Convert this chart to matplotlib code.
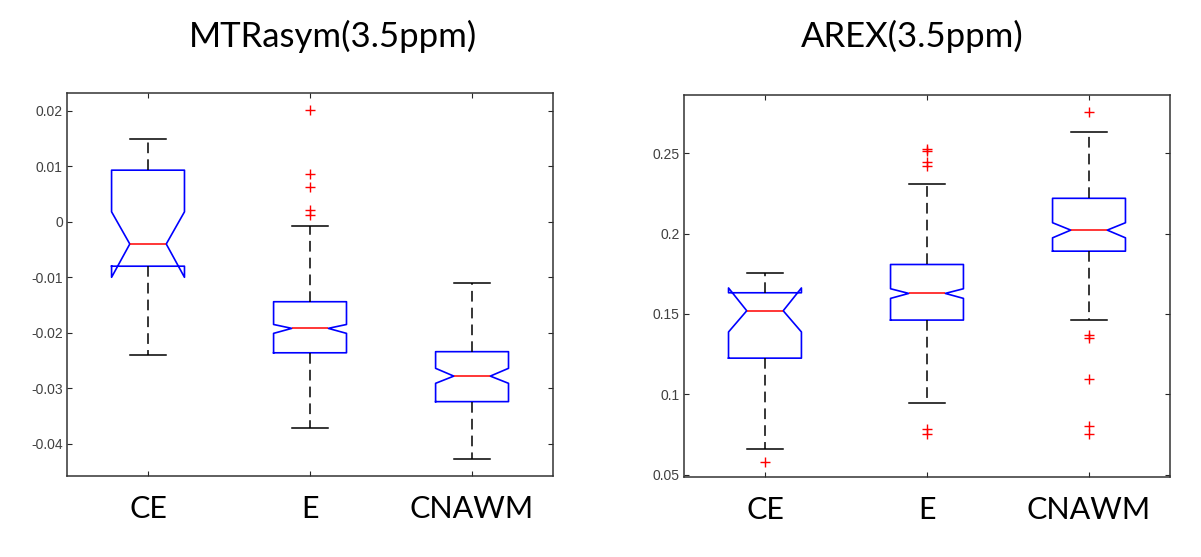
import numpy as np
import matplotlib
matplotlib.use("Agg")
import matplotlib.pyplot as plt

groups = ["CE", "E", "CNAWM"]

# MTRasym(3.5ppm) box statistics
mtr_whislo = [-0.0240, -0.0371, -0.0428]
mtr_q1 = [-0.0080, -0.0236, -0.0324]
mtr_cilo = [-0.0100, -0.0201, -0.0291]
mtr_med = [-0.0040, -0.0192, -0.0278]
mtr_cihi = [0.0018, -0.0185, -0.0264]
mtr_q3 = [0.0093, -0.0144, -0.0234]
mtr_whishi = [0.0149, -0.0008, -0.0111]
mtr_fliers = [[], [0.0201, 0.0087, 0.0063, 0.0021, 0.0013], []]

# AREX(3.5ppm) box statistics
arex_whislo = [0.0660, 0.0944, 0.1462]
arex_q1 = [0.1225, 0.1462, 0.1891]
arex_cilo = [0.1388, 0.1597, 0.1974]
arex_med = [0.1520, 0.1628, 0.2022]
arex_cihi = [0.1662, 0.1657, 0.2068]
arex_q3 = [0.1632, 0.1808, 0.2220]
arex_whishi = [0.1758, 0.2311, 0.2633]
arex_fliers = [[0.0578],
               [0.2525, 0.2515, 0.2444, 0.2421, 0.0782, 0.0755],
               [0.2755, 0.1370, 0.1353, 0.1096, 0.0803, 0.0751]]


def make_stats(whislo, q1, cilo, med, cihi, q3, whishi, fliers):
    stats = []
    for i in range(len(groups)):
        stats.append(dict(label=groups[i], whislo=whislo[i], q1=q1[i],
                          cilo=cilo[i], med=med[i], cihi=cihi[i], q3=q3[i],
                          whishi=whishi[i], fliers=np.array(fliers[i])))
    return stats


def draw(ax, stats, ylim, yticks, yticklabels):
    ax.bxp(stats, shownotches=True, widths=0.45,
           boxprops=dict(color="#0000ff", linewidth=1.2),
           whiskerprops=dict(color="black", linewidth=1.1, linestyle=(0, (7, 4))),
           capprops=dict(color="black", linewidth=1.1),
           medianprops=dict(color="#ff0000", linewidth=1.1),
           flierprops=dict(marker="+", markeredgecolor="#ff0000",
                           markersize=7, markeredgewidth=1.0, linestyle="none"))
    ax.set_xlim(0.5, 3.5)
    ax.set_ylim(*ylim)
    ax.set_xticks([1, 2, 3])
    ax.set_xticklabels(groups, fontfamily="Lato", fontsize=22, color="black")
    ax.set_yticks(yticks)
    ax.set_yticklabels(yticklabels, fontfamily="Liberation Sans", fontsize=10,
                       color="#404040")
    ax.tick_params(axis="both", direction="in", length=3.5, width=0.8,
                   color="#262626", top=True, right=True)
    ax.tick_params(axis="x", pad=14)
    ax.tick_params(axis="y", pad=3)
    for s in ax.spines.values():
        s.set_color("#333333")
        s.set_linewidth(1.1)


fig = plt.figure(figsize=(12.01, 5.57), dpi=100)
ax1 = fig.add_axes([0.0558, 0.1454, 0.4047, 0.6876])
ax2 = fig.add_axes([0.5695, 0.1436, 0.4047, 0.6858])

draw(ax1, make_stats(mtr_whislo, mtr_q1, mtr_cilo, mtr_med, mtr_cihi,
                     mtr_q3, mtr_whishi, mtr_fliers),
     (-0.0458, 0.0232),
     [-0.04, -0.03, -0.02, -0.01, 0, 0.01, 0.02],
     ["-0.04", "-0.03", "-0.02", "-0.01", "0", "0.01", "0.02"])

draw(ax2, make_stats(arex_whislo, arex_q1, arex_cilo, arex_med, arex_cihi,
                     arex_q3, arex_whishi, arex_fliers),
     (0.0485, 0.2863),
     [0.05, 0.1, 0.15, 0.2, 0.25],
     ["0.05", "0.1", "0.15", "0.2", "0.25"])

fig.text(333 / 1201, 1 - 36 / 557, "MTRasym(3.5ppm)", ha="center", va="center",
         fontfamily="Lato", fontsize=25)
fig.text(912 / 1201, 1 - 36 / 557, "AREX(3.5ppm)", ha="center", va="center",
         fontfamily="Lato", fontsize=25)

fig.savefig("out.png", dpi=100, facecolor="white")
